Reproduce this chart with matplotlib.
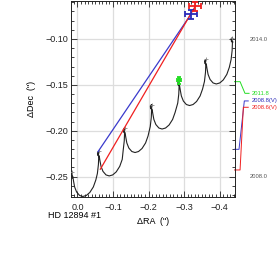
import matplotlib
matplotlib.use("Agg")
import matplotlib.pyplot as plt
from matplotlib.ticker import MultipleLocator
import matplotlib.transforms as mtransforms

plt.rcParams['font.family'] = ['Liberation Sans', 'DejaVu Sans']

# parallax + proper motion track (dRA, dDec in arcsec)
track_ra = [
    0.0146, 0.0154, 0.0146, 0.0180, 0.0174, 0.0132,
    0.0112, 0.0081, 0.0025, -0.0060, -0.0150, -0.0248, -0.0347, -0.0446, -0.0516,
    -0.0560, -0.0589, -0.0597, -0.0589, -0.0597, -0.0563, -0.0569, -0.0611,
    -0.0631, -0.0662, -0.0718, -0.0803, -0.0893, -0.0991, -0.1090, -0.1189, -0.1259,
    -0.1287, -0.1316, -0.1324, -0.1316, -0.1324, -0.1290, -0.1296, -0.1338,
    -0.1358, -0.1389, -0.1445, -0.1530, -0.1620, -0.1718, -0.1817, -0.1916, -0.1986,
    -0.2048, -0.2077, -0.2085, -0.2077, -0.2085, -0.2051, -0.2057, -0.2099,
    -0.2119, -0.2150, -0.2206, -0.2291, -0.2381, -0.2479, -0.2578, -0.2677, -0.2747,
    -0.2822, -0.2851, -0.2859, -0.2851, -0.2859, -0.2825, -0.2831, -0.2873,
    -0.2893, -0.2924, -0.2980, -0.3065, -0.3155, -0.3253, -0.3352, -0.3451, -0.3521,
    -0.3574, -0.3603, -0.3611, -0.3603, -0.3611, -0.3577, -0.3583, -0.3625,
    -0.3645, -0.3676, -0.3732, -0.3817, -0.3907, -0.4005, -0.4104, -0.4203, -0.4273,
    -0.4324, -0.4353, -0.4361, -0.4353, -0.4361, -0.4327, -0.4333, -0.4375,
]
track_dec = [
    -0.2514, -0.2471, -0.2449, -0.2465, -0.2493, -0.2498,
    -0.2547, -0.2612, -0.2667, -0.2705, -0.2716, -0.2705, -0.2672, -0.2612, -0.2536,
    -0.2465, -0.2367, -0.2290, -0.2247, -0.2225, -0.2241, -0.2269, -0.2274,
    -0.2323, -0.2388, -0.2443, -0.2481, -0.2492, -0.2481, -0.2448, -0.2388, -0.2312,
    -0.2210, -0.2112, -0.2035, -0.1992, -0.1970, -0.1986, -0.2014, -0.2019,
    -0.2068, -0.2133, -0.2188, -0.2226, -0.2237, -0.2226, -0.2193, -0.2133, -0.2057,
    -0.1954, -0.1856, -0.1779, -0.1736, -0.1714, -0.1730, -0.1758, -0.1763,
    -0.1812, -0.1877, -0.1932, -0.1970, -0.1981, -0.1970, -0.1937, -0.1877, -0.1801,
    -0.1698, -0.1600, -0.1523, -0.1480, -0.1458, -0.1474, -0.1502, -0.1507,
    -0.1556, -0.1621, -0.1676, -0.1714, -0.1725, -0.1714, -0.1681, -0.1621, -0.1545,
    -0.1463, -0.1365, -0.1288, -0.1245, -0.1223, -0.1239, -0.1267, -0.1272,
    -0.1321, -0.1386, -0.1441, -0.1479, -0.1490, -0.1479, -0.1446, -0.1386, -0.1310,
    -0.1224, -0.1126, -0.1049, -0.1006, -0.0984, -0.1000, -0.1028, -0.1033,
]

# yearly marks on the track (2008.0 ... 2014.0)
year_ra = [0.0146, -0.0597, -0.1324, -0.2085, -0.2859, -0.3611, -0.4361]
year_dec = [-0.2449, -0.2225, -0.1970, -0.1714, -0.1458, -0.1223, -0.0984]

# measured companion positions
blue_ra = [-0.0577, -0.3197]
blue_dec = [-0.2228, -0.0728]
blue_err = (0.018, 0.0049)
red_ra = [-0.0642, -0.3318]
red_dec = [-0.2419, -0.0641]
red_err = (0.017, 0.0049)
green_ra = -0.2859
green_dec = -0.1452
green_err = (0.0056, 0.0033)

blue = '#2a2ab8'
red = '#f02020'
green = '#22dd22'

fig = plt.figure(figsize=(2.77, 2.61), dpi=100)
ax = fig.add_axes([0.2563, 0.2433, 0.5903, 0.7529])

ax.plot(track_ra, track_dec, color='#222222', lw=0.8, zorder=3)
ax.plot(year_ra, year_dec, ls='none', marker='+', ms=2.5, mew=0.6,
        color='#888888', zorder=3)

ax.plot(blue_ra, blue_dec, color='#3a3acc', lw=0.9, zorder=4)
ax.plot(red_ra, red_dec, color=red, lw=0.9, zorder=4)

ax.errorbar(blue_ra[1], blue_dec[1], xerr=blue_err[0], yerr=blue_err[1],
            color=blue, lw=1.3, capsize=2.2, capthick=1.3, zorder=5)
ax.errorbar(red_ra[1], red_dec[1], xerr=red_err[0], yerr=red_err[1],
            color=red, lw=1.3, capsize=2.2, capthick=1.3, zorder=5)
ax.errorbar(green_ra, green_dec, xerr=green_err[0], yerr=green_err[1],
            color=green, lw=1.5, capsize=1.6, capthick=1.3, zorder=5)

ax.set_xlim(0.0183, -0.442)
ax.set_ylim(-0.2727, -0.0586)
ax.xaxis.set_major_locator(MultipleLocator(0.1))
ax.xaxis.set_minor_locator(MultipleLocator(0.01))
ax.yaxis.set_major_locator(MultipleLocator(0.05))
ax.yaxis.set_minor_locator(MultipleLocator(0.01))
ax.set_xticks([0.0, -0.1, -0.2, -0.3, -0.4])
ax.set_xticklabels(['0.0', '\u22120.1', '\u22120.2', '\u22120.3', '\u22120.4'])
ax.set_yticks([-0.25, -0.20, -0.15, -0.10])
ax.set_yticklabels(['\u22120.25', '\u22120.20', '\u22120.15', '\u22120.10'])
ax.tick_params(which='both', direction='in', top=True, right=True,
               labelsize=6.5, width=0.6, colors='#222222')
ax.tick_params(which='major', length=4)
ax.tick_params(which='minor', length=2)
ax.tick_params(axis='x', pad=4)
ax.tick_params(axis='y', pad=2)
ax.grid(True, which='major', color='#dddddd', lw=0.9)
ax.set_axisbelow(True)
for s in ax.spines.values():
    s.set_linewidth(0.7)
    s.set_color('#222222')

ax.set_xlabel('\u0394RA  (")', fontsize=6.5)
ax.set_ylabel('\u0394Dec  (")', fontsize=6.5)
ax.xaxis.set_label_coords(0.5, -0.10)
ax.yaxis.set_label_coords(-0.214, 0.5)

fig.text(0.173, 0.176, 'HD 12894 #1', fontsize=6.5, va='center', ha='left')

# epoch indicators outside the right axis
trans = mtransforms.blended_transform_factory(ax.transAxes, ax.transData)
ax.plot([1.0, 1.034, 1.064, 1.089], [-0.1465, -0.1465, -0.1592, -0.1592],
        color=green, lw=0.7, transform=trans, clip_on=False)
ax.plot([1.0, 1.0275, 1.06, 1.084], [-0.2202, -0.2202, -0.1675, -0.1675],
        color='#3a3acc', lw=0.7, transform=trans, clip_on=False)
ax.plot([1.0, 1.034, 1.054, 1.084], [-0.2427, -0.2427, -0.1744, -0.1744],
        color=red, lw=0.7, transform=trans, clip_on=False)
ax.text(1.105, -0.1592, '2011.8', color=green, fontsize=4.2, va='center',
        transform=trans)
ax.text(1.105, -0.1675, '2008.8(V)', color=blue, fontsize=4.2, va='center',
        transform=trans)
ax.text(1.105, -0.1744, '2008.6(V)', color=red, fontsize=4.2, va='center',
        transform=trans)
ax.text(1.095, -0.1011, '2014.0', color='#555555', fontsize=4.2, va='center',
        transform=trans)
ax.text(1.095, -0.2500, '2008.0', color='#555555', fontsize=4.2, va='center',
        transform=trans)

fig.savefig('out.png', dpi=100)
